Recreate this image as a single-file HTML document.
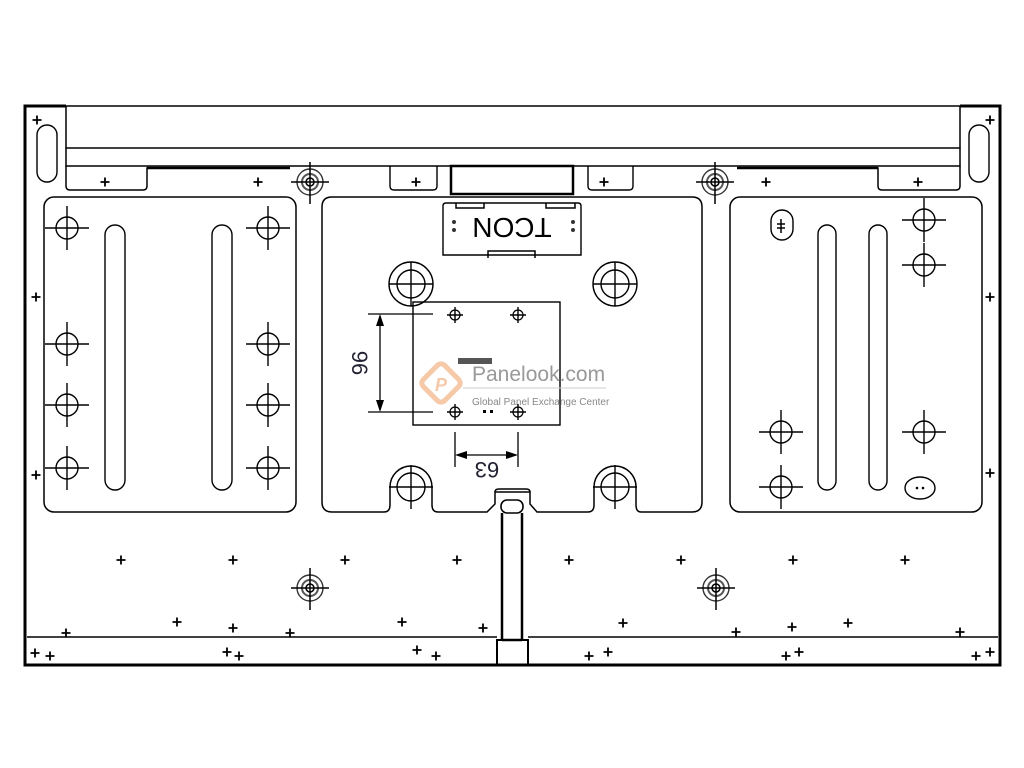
<!DOCTYPE html>
<html><head><meta charset="utf-8"><style>
html,body{margin:0;padding:0;background:#fff;}
svg{display:block;}
text{font-family:"Liberation Sans",sans-serif;}
</style></head><body>
<svg width="1024" height="768" viewBox="0 0 1024 768" xmlns="http://www.w3.org/2000/svg">
<defs>
<g id="p"><path d="M-4.5 0H4.5M0 -4.5V4.5" stroke="#000" stroke-width="1.8"/></g>
<g id="ch"><circle r="11" fill="none" stroke="#000" stroke-width="1.4"/><path d="M-22 0H22M0 -22V22" stroke="#000" stroke-width="1.4"/></g>
<g id="sc"><circle r="5" fill="none" stroke="#000" stroke-width="1.2"/><path d="M-8 0H8M0 -8V8" stroke="#000" stroke-width="1.4"/></g>
<g id="tg"><circle r="13" fill="none" stroke="#333" stroke-width="1.4"/><circle r="8" fill="none" stroke="#555" stroke-width="2"/><circle r="4" fill="none" stroke="#000" stroke-width="1.5"/><path d="M-19 0H19M0 -20V22" stroke="#000" stroke-width="1.5"/></g>
<g id="big"><circle r="22" fill="none" stroke="#000" stroke-width="1.4"/><circle r="14" fill="none" stroke="#000" stroke-width="1.4"/><path d="M-22 0H22M0 -22V22" stroke="#000" stroke-width="1.4"/></g>
</defs>
<g fill="none" stroke="#000">
<!-- outer frame -->
<path d="M66 106H25V665H1000V106H960" stroke-width="3"/>
<!-- top bar -->
<rect x="66" y="106" width="894" height="42" stroke-width="1.5"/>
<path d="M66 148V166H960V148" stroke-width="1.5"/>
<rect x="37" y="125" width="20" height="57" rx="10" stroke-width="1.4"/>
<rect x="969" y="125" width="20" height="57" rx="10" stroke-width="1.4"/>
<!-- tabs -->
<path d="M66 166V186Q66 190 70 190H143Q147 190 147 186V168H290" stroke-width="1.5"/>
<path d="M147 168H290" stroke-width="2.5"/>
<path d="M390 166V186Q390 190 394 190H433Q437 190 437 186V166" stroke-width="1.4"/>
<rect x="451" y="166" width="122" height="28" stroke-width="2.5"/>
<path d="M588 166V186Q588 190 592 190H629Q633 190 633 186V166" stroke-width="1.4"/>
<path d="M737 168H878V186Q878 190 882 190H956Q960 190 960 186V166" stroke-width="1.5"/>
<path d="M737 168H878" stroke-width="2.5"/>
<!-- left panel -->
<rect x="44" y="197" width="252" height="315" rx="10" stroke-width="1.5"/>
<rect x="105" y="225" width="20" height="265" rx="10" stroke-width="1.4"/>
<rect x="212" y="225" width="20" height="265" rx="10" stroke-width="1.4"/>
<!-- right panel -->
<rect x="730" y="197" width="252" height="315" rx="10" stroke-width="1.5"/>
<rect x="818" y="225" width="18" height="265" rx="9" stroke-width="1.4"/>
<rect x="869" y="225" width="18" height="265" rx="9" stroke-width="1.4"/>
<rect x="771" y="210" width="22" height="30" rx="11" stroke-width="1.4"/>
<ellipse cx="920" cy="488" rx="15" ry="11" stroke-width="1.4"/>
<!-- middle panel -->
<path d="M332 197H692Q702 197 702 207V502Q702 512 692 512H641Q636 512 636 505V487A21 21 0 0 0 594 487V505Q594 512 588 512H537L530 504V492H495V504L487 512H438Q432 512 432 505V487A21 21 0 0 0 390 487V505Q390 512 384 512H332Q322 512 322 502V207Q322 197 332 197Z" stroke-width="1.5"/>
<path d="M495 492Q495 489 499 489H526Q530 489 530 492" stroke-width="1.4"/>
<rect x="501" y="500" width="22" height="13" rx="6" stroke-width="1.6"/>
<!-- stem -->
<path d="M502 513V640M522 513V640" stroke-width="2.5"/>
<path d="M502 640H522" stroke-width="2.5"/>
<rect x="497" y="640" width="31" height="25" stroke-width="2"/>
<path d="M27 637H497M528 637H998" stroke-width="1.5"/>
<!-- TCON -->
<path d="M449 203H578Q581 203 581 206V255H443V206Q443 203 446 203Z" stroke-width="1.4"/>
<path d="M456 203V208H484V203M546 203V208H575V203" stroke-width="1.5"/>
<path d="M488 258V251H535V258" stroke-width="1.5"/>
<!-- inner plate -->
<rect x="413" y="302" width="147" height="123" stroke-width="1.4"/>
<!-- dimension 96 -->
<path d="M368 314H433M368 412H433M380 316V410" stroke-width="1.3"/>
<path d="M380 314L376 326H384Z M380 412L376 400H384Z" fill="#000" stroke="none"/>
<!-- dimension 63 -->
<path d="M455 432V467M518 432V467M457 455H516" stroke-width="1.3"/>
<path d="M455 455L467 451V459Z M518 455L506 451V459Z" fill="#000" stroke="none"/>
</g>
<text x="0" y="0" font-size="28" fill="#000" transform="translate(512,218) rotate(180)" text-anchor="middle" font-family="Liberation Sans">TCON</text>
<circle cx="454" cy="222" r="2" fill="#333"/><circle cx="454" cy="230" r="2" fill="#333"/>
<circle cx="573" cy="222" r="2" fill="#333"/><circle cx="573" cy="230" r="2" fill="#333"/>
<text transform="translate(352,363) rotate(90)" font-size="22" text-anchor="middle" font-family="Liberation Serif" fill="#223">96</text>
<text transform="translate(487,462) rotate(180)" font-size="22" text-anchor="middle" font-family="Liberation Serif" fill="#223">63</text>
<rect x="483" y="410" width="3" height="3" fill="#000"/><rect x="490" y="410" width="3" height="3" fill="#000"/>
<rect x="458" y="358" width="34" height="6" fill="#555"/>
<!-- watermark -->
<g transform="translate(441,383) rotate(45)"><rect x="-15" y="-15" width="30" height="30" rx="5" fill="none" stroke="#f6c9a8" stroke-width="5"/></g>
<text x="435" y="391" font-size="18" font-weight="bold" font-style="italic" fill="#f6c9a8" font-family="Liberation Sans">P</text>
<text x="472" y="381" font-size="21" fill="#999" font-family="Liberation Serif">Panelook.com</text>
<path d="M463 388H606" stroke="#ccc" stroke-width="1"/>
<text x="472" y="405" font-size="10" fill="#888">Global Panel Exchange Center</text>
<!-- crosshairs -->
<use href="#ch" x="67" y="228"/><use href="#ch" x="268" y="228"/>
<use href="#ch" x="67" y="344"/><use href="#ch" x="268" y="344"/>
<use href="#ch" x="67" y="405"/><use href="#ch" x="268" y="405"/>
<use href="#ch" x="67" y="468"/><use href="#ch" x="268" y="468"/>
<use href="#ch" x="924" y="220"/><use href="#ch" x="924" y="265"/>
<use href="#ch" x="781" y="432"/><use href="#ch" x="924" y="432"/>
<use href="#ch" x="781" y="487"/>
<use href="#big" x="411" y="284"/><use href="#big" x="615" y="284"/>
<circle cx="411" cy="487" r="14" fill="none" stroke="#000" stroke-width="1.4"/><path d="M389 487H433M411 465V509" stroke="#000" stroke-width="1.4"/>
<circle cx="615" cy="487" r="14" fill="none" stroke="#000" stroke-width="1.4"/><path d="M593 487H637M615 465V509" stroke="#000" stroke-width="1.4"/>
<use href="#sc" x="455" y="315"/><use href="#sc" x="518" y="315"/>
<use href="#sc" x="455" y="412"/><use href="#sc" x="518" y="412"/>
<use href="#tg" x="310" y="182"/><use href="#tg" x="715" y="182"/>
<use href="#tg" x="310" y="588"/><use href="#tg" x="716" y="588"/>
<path d="M777 224H785M777 228H785M781 219V233" stroke="#000" stroke-width="1.5"/>
<circle cx="917" cy="488" r="1.3" fill="#000"/><circle cx="923" cy="488" r="1.3" fill="#000"/>
<!-- small pluses -->
<use href="#p" x="37" y="120"/><use href="#p" x="105" y="182"/><use href="#p" x="258" y="182"/>
<use href="#p" x="416" y="182"/><use href="#p" x="604" y="182"/><use href="#p" x="766" y="182"/>
<use href="#p" x="918" y="182"/><use href="#p" x="990" y="120"/>
<use href="#p" x="36" y="297"/><use href="#p" x="990" y="297"/>
<use href="#p" x="36" y="475"/><use href="#p" x="990" y="473"/>
<use href="#p" x="121" y="560"/><use href="#p" x="233" y="560"/><use href="#p" x="345" y="560"/>
<use href="#p" x="457" y="560"/><use href="#p" x="569" y="560"/><use href="#p" x="681" y="560"/>
<use href="#p" x="793" y="560"/><use href="#p" x="905" y="560"/>
<use href="#p" x="66" y="633"/><use href="#p" x="177" y="622"/><use href="#p" x="233" y="628"/>
<use href="#p" x="290" y="633"/><use href="#p" x="402" y="622"/><use href="#p" x="483" y="628"/>
<use href="#p" x="623" y="623"/><use href="#p" x="736" y="632"/><use href="#p" x="792" y="627"/>
<use href="#p" x="848" y="623"/><use href="#p" x="960" y="632"/>
<use href="#p" x="35" y="653"/><use href="#p" x="50" y="656"/><use href="#p" x="227" y="652"/>
<use href="#p" x="239" y="656"/><use href="#p" x="417" y="650"/><use href="#p" x="436" y="656"/>
<use href="#p" x="589" y="656"/><use href="#p" x="608" y="652"/><use href="#p" x="786" y="656"/>
<use href="#p" x="799" y="652"/><use href="#p" x="976" y="656"/><use href="#p" x="990" y="652"/>
</svg>
</body></html>
